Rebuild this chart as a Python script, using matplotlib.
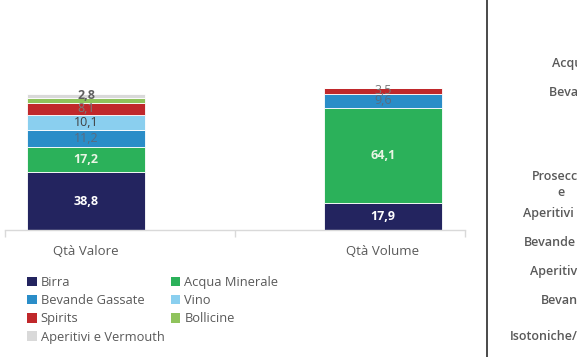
import matplotlib
matplotlib.use("Agg")
import matplotlib.pyplot as plt
from matplotlib.patches import Patch

plt.rcParams['font.family'] = ['Open Sans', 'DejaVu Sans']

categories = ["Qtà Valore", "Qtà Volume"]
series = ["Birra", "Acqua Minerale", "Bevande Gassate", "Vino", "Spirits", "Bollicine", "Aperitivi e Vermouth"]
birra = [38.8, 17.9]
acqua = [17.2, 64.1]
gassate = [11.2, 9.6]
vino = [10.1, 0.0]
spirits = [8.1, 3.5]
bollicine = [3.3, 0.0]
aperitivi = [2.8, 0.0]
values = [birra, acqua, gassate, vino, spirits, bollicine, aperitivi]
colors = ["#23245f", "#2bb15a", "#2a8dc8", "#8acfef", "#c0282b", "#8fc35c", "#d9d9d9"]
label_colors = ["white", "#e9f5e4", "#5a6b80", "#404040", "#7a7a7a", "#7a7a7a", "#606060"]
label_bold = [True, True, False, False, False, False, True]
show_label = [True, True, True, True, True, False, True]

right_labels = ["Acqua Minerale", "Bevande Gassate", "Prosecco", "e", "Aperitivi", "Bevande", "Aperitivi", "Bevande", "Isotoniche/"]
right_x = [552, 549, 532, 557, 523, 524, 530, 541, 510]
right_y = [63, 92, 176, 193, 213, 242, 271, 300, 337]

W, H = 577, 357
fig = plt.figure(figsize=(W / 100, H / 100), dpi=100)
ax = fig.add_axes([5 / W, 127 / H, 460 / W, 230 / H])
ax.set_xlim(-0.2727, 1.276)
ax.set_ylim(0, 230 / 1.49)

x = list(range(len(categories)))
bottom = [0.0] * len(categories)
for vals, col, lc, lb, sl in zip(values, colors, label_colors, label_bold, show_label):
    ax.bar(x, vals, width=0.4, bottom=bottom, color=col, edgecolor='white', linewidth=0.6)
    if sl:
        for i, v in enumerate(vals):
            if v > 0:
                ax.text(x[i], bottom[i] + v / 2, f"{v:.1f}".replace('.', ','),
                        ha='center', va='center', fontsize=9,
                        fontweight='bold' if lb else 'normal', color=lc)
    bottom = [b + v for b, v in zip(bottom, vals)]

for s in ['top', 'right', 'left']:
    ax.spines[s].set_visible(False)
ax.spines['bottom'].set_color('#d9d9d9')
ax.spines['bottom'].set_linewidth(1.0)
ax.set_yticks([])
ax.set_xticks(x)
ax.set_xticklabels(categories, fontsize=9.5, color='#595959')
ax.tick_params(axis='x', which='major', length=0, pad=11)
ax.set_xticks([-0.2727, 0.5, 1.276], minor=True)
ax.tick_params(axis='x', which='minor', length=5, color='#d9d9d9', width=1.0)

handles = [Patch(facecolor=c, edgecolor='none') for c in colors]
order = [0, 2, 4, 6, 1, 3, 5]
fig.legend([handles[k] for k in order], [series[k] for k in order],
           loc='upper left', bbox_to_anchor=(27 / W, 1 - 276 / H),
           ncol=2, frameon=False, fontsize=9.3, labelcolor='#595959',
           handlelength=0.75, handleheight=0.75, handletextpad=0.3,
           columnspacing=0.5, labelspacing=0.4, borderaxespad=0, borderpad=0)

fig.add_artist(plt.Line2D([487 / W, 487 / W], [0, 1], color='#3a3a3a', linewidth=1.3))
for t, px, py in zip(right_labels, right_x, right_y):
    fig.text(px / W, 1 - py / H, t, ha='left', va='center', fontsize=9,
             fontweight='semibold', color='#595959')

fig.savefig("out.png", dpi=100)
